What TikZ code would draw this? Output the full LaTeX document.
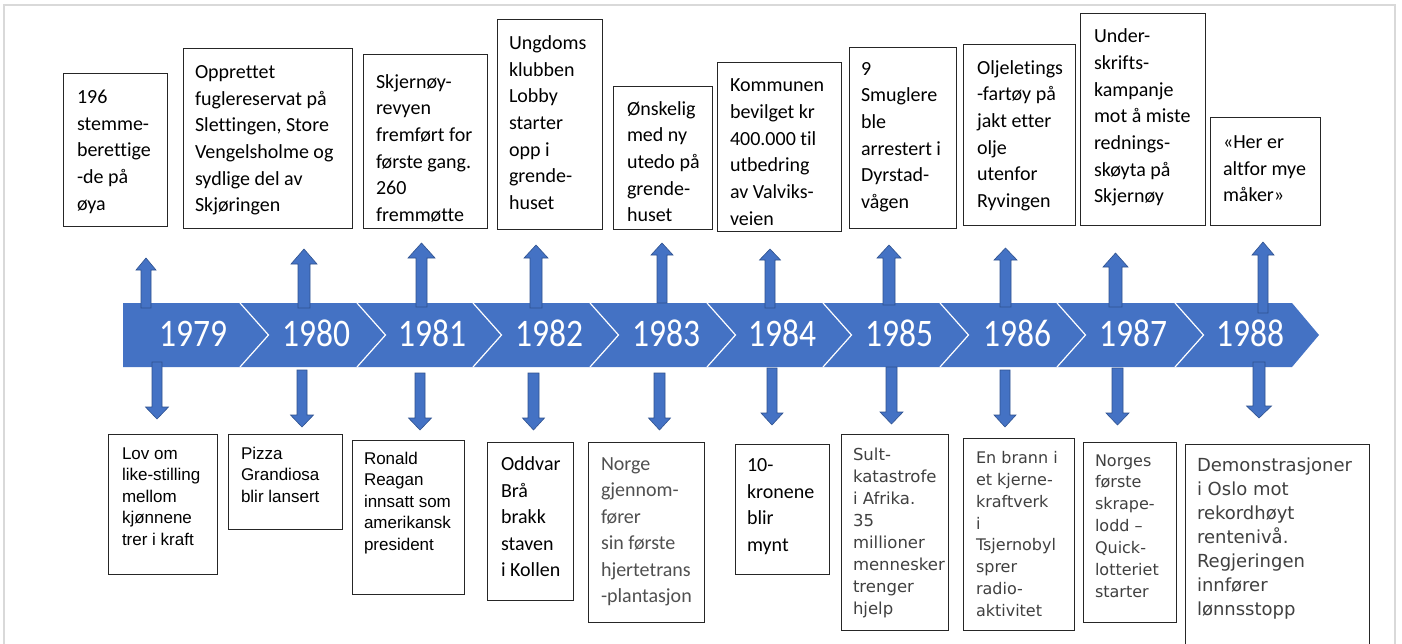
\documentclass[tikz,border=0pt]{standalone}
\usepackage{fontspec}
\usepackage{graphicx}
\setmainfont[Ligatures={NoCommon}]{Carlito}
\newfontfamily\fcal[Ligatures={NoCommon}]{Carlito}
\newfontfamily\fari{Liberation Sans}
\newfontfamily\fver[Ligatures={NoCommon}]{DejaVu Sans}
\definecolor{tlblue}{HTML}{4472C4}
\definecolor{tledge}{HTML}{2F528F}
\definecolor{frameg}{HTML}{D9D9D9}
\definecolor{txtgray}{HTML}{404040}
\definecolor{txtgrayb}{HTML}{505050}
\tikzset{
  evframe/.style={draw=black!85, line width=1pt, inner sep=0pt, outer sep=0pt, anchor=north west},
  evtxt/.style={anchor=north west, inner sep=0pt, outer sep=0pt, align=left},
  topf/.style={evtxt, font=\fcal\fontsize{20}{26.7}\selectfont, yshift=18.69pt},
  arif/.style={evtxt, font=\fari\fontsize{17}{21.5}\selectfont, yshift=15.05pt},
  calb/.style={evtxt, font=\fcal\fontsize{20}{26.5}\selectfont, yshift=18.55pt},
  verm/.style={evtxt, text=txtgray, font=\fver\fontsize{16.5}{22}\selectfont, yshift=15.4pt},
  verf/.style={evtxt, text=txtgray, font=\fver\fontsize{16}{21.9}\selectfont, yshift=15.33pt},
  verl/.style={evtxt, text=txtgray, font=\fver\fontsize{18}{23.9}\selectfont, yshift=16.73pt},
  blockarrow/.style={fill=tlblue, draw=tledge, line width=0.6pt, line join=miter},
  yearlbl/.style={text=white, anchor=base, inner sep=0pt, font=\fcal\fontsize{39}{44}\selectfont},
}
\newcommand\evbox[5]{\node[evframe, minimum width={(#4)-(#2)}, minimum height={(#5)-(#3)}] (#1) at (#2,#3) {};}
\newcommand\evtext[5]{\node[#2] (#1) at (#3,#4) {\strut #5};}
\begin{document}
\begin{tikzpicture}[x=1pt,y=-1pt]
\useasboundingbox (0,0) rectangle (1402,643);
\clip (0,0) rectangle (1402,643);
\fill[white] (0,0) rectangle (1402,643);
\draw[frameg, line width=2pt] (4,5) rectangle (1395,680);

% timeline bar
\fill[tlblue] (123,303) -- (1292,303) -- (1319,335) -- (1292,367) -- (123,367) -- cycle;
\foreach \bx in {240,357,473,590,707,823,940,1057,1175}
  \draw[white, line width=1.2pt] (\bx,303) -- (\bx+28.5,335) -- (\bx,367);

% year labels
\foreach \yx/\yr in {193/1979,316/1980,432/1981,549/1982,666/1983,782/1984,899/1985,1017/1986,1133/1987,1250/1988}
  \node[yearlbl] (y\yr) at (\yx,346) {\scalebox{0.86}[1]{\yr}};

% up arrows: cx/w/h/tip/headbase/bottom
\foreach \cx/\w/\h/\tp/\hb/\bt in {146/5/10/258/270/308, 304/6/13/249/264/308, 421.5/5.5/13.5/243/258/307,
  536/6/12/245/258/308, 662/5/11/243/255/303, 770/5/10.5/249/260/308, 889/6/12/245/258/305,
  1005.5/5.5/11.5/248/260/307, 1115.5/6.5/12.5/253/267/307, 1263/5/11/242/255/313}
  \draw[blockarrow] (\cx-\w,\bt) -- (\cx-\w,\hb) -- (\cx-\h,\hb) -- (\cx,\tp) -- (\cx+\h,\hb) -- (\cx+\w,\hb) -- (\cx+\w,\bt) -- cycle;

% down arrows: cx/w/h/top/headbase/tip
\foreach \cx/\w/\h/\tp/\hb/\bt in {157/5/11.5/362/407/419, 302/5/11.5/370/415/427, 420/5/11.5/373/418/430,
  533.5/5.5/11/373/418/430, 659.5/5.5/11/373/418/430, 772/5/11/368/413/425, 891.5/5.5/11.5/367/412/424,
  1005/5/11/370/415/427, 1117.5/5.5/11.5/368/413/425, 1259/6/12.5/362/406/418}
  \draw[blockarrow] (\cx-\w,\tp) -- (\cx-\w,\hb) -- (\cx-\h,\hb) -- (\cx,\bt) -- (\cx+\h,\hb) -- (\cx+\w,\hb) -- (\cx+\w,\tp) -- cycle;

% top boxes
\evbox{ta}{63}{73}{167}{226}
\evtext{tta}{topf}{77}{103.3}{196\\stemme-\\berettige\\-de på\\øya}
\evbox{tb}{183}{48}{352}{228}
\evtext{ttb}{topf}{195}{78.3}{Opprettet\\fuglereservat på\\Slettingen, Store\\Vengelsholme og\\sydlige del av\\Skjøringen}
\evbox{tc}{363}{54}{487}{228}
\evtext{ttc}{topf}{376}{88}{Skjernøy-\\revyen\\fremført for\\første gang.\\260\\fremmøtte}
\evbox{td}{497}{19}{602}{229}
\evtext{ttd}{topf}{509}{49.3}{Ungdoms\\klubben\\Lobby\\starter\\opp i\\grende-\\huset}
\evbox{te}{613}{86}{712}{229}
\evtext{tte}{topf}{627}{115}{Ønskelig\\med ny\\utedo på\\grende-\\huset}
\evbox{tf}{717}{62}{841}{231}
\evtext{ttf}{topf}{730}{91.7}{Kommunen\\bevilget kr\\400.000 til\\utbedring\\av Valviks-\\veien}
\evbox{tg}{849}{47}{956}{228}
\evtext{ttg}{topf}{861}{75}{9\\Smuglere\\ble\\arrestert i\\Dyrstad-\\vågen}
\evbox{th}{963}{44}{1075}{225}
\evtext{tth}{topf}{977}{74}{Oljeletings\\-fartøy på\\jakt etter\\olje\\utenfor\\Ryvingen}
\evbox{ti}{1080}{13}{1205}{225}
\evtext{tti}{topf}{1094}{42.7}{Under-\\skrifts-\\kampanje\\mot å miste\\rednings-\\skøyta på\\Skjernøy}
\evbox{tj}{1210}{117}{1320}{225}
\evtext{ttj}{topf}{1223}{148.3}{«Her er\\altfor mye\\måker»}

% bottom boxes
\evbox{ba}{108}{434}{217}{574}
\evtext{bta}{arif}{122}{459.3}{Lov om\\like-stilling\\mellom\\kjønnene\\trer i kraft}
\evbox{bb}{228}{434}{342}{529}
\evtext{btb}{arif}{241}{459}{Pizza\\Grandiosa\\blir lansert}
\evbox{bc}{352}{440}{464}{594}
\evtext{btc}{arif}{364}{464.3}{Ronald\\Reagan\\innsatt som\\amerikansk\\president}
\evbox{bd}{487}{442}{573}{600}
\evtext{btd}{calb}{501}{470.7}{Oddvar\\Brå\\brakk\\staven\\i Kollen}
\evbox{be}{588}{442}{704}{622}
\evtext{bte}{calb, text=txtgrayb}{601}{470}{Norge\\gjennom-\\fører\\sin første\\hjertetrans\\-plantasjon}
\evbox{bf}{735}{444}{829}{574}
\evtext{btf}{calb}{747}{471.7}{10-\\kronene\\blir\\mynt}
\evbox{bg}{841}{434}{948}{630}
\evtext{btg}{verm}{853}{460.5}{Sult-\\katastrofe\\i Afrika.\\35\\millioner\\mennesker\\trenger\\hjelp}
\evbox{bh}{963}{438}{1074}{630}
\evtext{bth}{verf}{976}{463.3}{En brann i\\et kjerne-\\kraftverk\\i\\Tsjernobyl\\sprer\\radio-\\aktivitet}
\evbox{bi}{1083}{442}{1176}{622}
\evtext{bti}{verf}{1095}{466}{Norges\\første\\skrape-\\lodd –\\Quick-\\lotteriet\\starter}
\evbox{bj}{1185}{444}{1369}{660}
\evtext{btj}{verl}{1197}{471.7}{Demonstrasjoner\\i Oslo mot\\rekordhøyt\\rentenivå.\\Regjeringen\\innfører\\lønnsstopp}
\end{tikzpicture}
\end{document}
